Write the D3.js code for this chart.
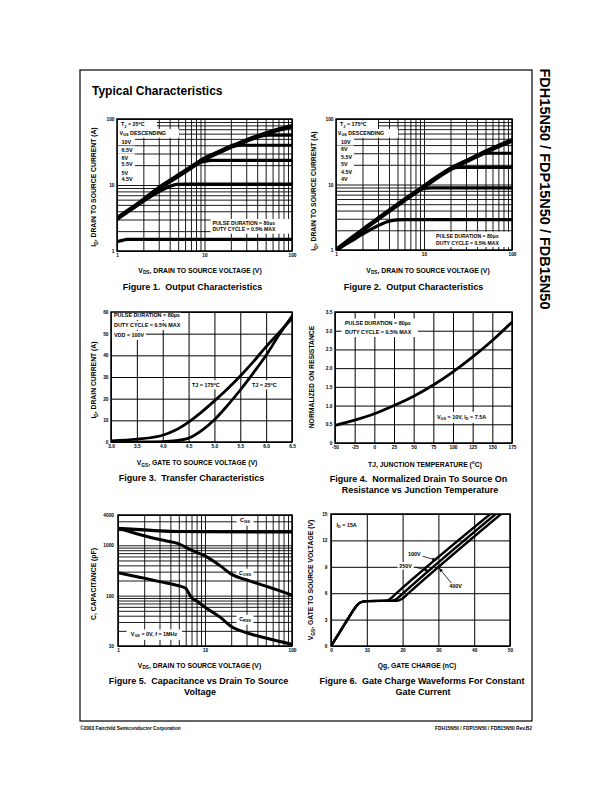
<!DOCTYPE html>
<html><head><meta charset="utf-8">
<script src="https://cdn.jsdelivr.net/npm/d3@7"></script>
<style>
body{margin:0;background:#fff}
svg{display:block}
text{font-family:"Liberation Sans",Arial,Helvetica,sans-serif;font-weight:bold;fill:#000;white-space:pre}
</style>
</head><body>
<svg id="c" width="611" height="792"></svg>
<script>
// ---------------- DATA ----------------
// Figure 1: Output characteristics, TJ = 25C  [VDS (V), ID (A)]
const f1_10V  = [[1,3.1],[1.5,4.5],[2,5.9],[3,8.9],[5,13.8],[7,18.4],[10,25],[15,32],[20,38],[30,47],[50,60],[70,69],[100,78]];
const f1_6p5V = [[1,3.1],[1.5,4.5],[2,5.9],[3,8.9],[5,13.8],[7,18.4],[10,25],[15,32],[20,38],[30,47],[37,51.5],[45,55.5],[55,57],[100,57]];
const f1_6V   = [[1,3.1],[1.5,4.5],[2,5.9],[3,8.9],[5,13.8],[7,18.4],[10,25],[15,32],[18,36],[22,39],[27,40],[100,40]];
const f1_5p5V = [[1,3.1],[1.5,4.5],[2,5.9],[3,8.9],[5,13.8],[7,18.4],[8.5,21.3],[10,22.8],[12,23.6],[100,23.6]];
const f1_5V   = [[1,3.1],[1.5,4.4],[2,5.7],[3,7.9],[4,9.5],[4.8,10.2],[6,10.3],[100,10.3]];
const f1_4p5V = [[1,1.38],[1.15,1.45],[1.3,1.5],[100,1.5]];
const f1Legend = ["10V","6.5V","6V","5.5V","5V","4.5V"];

// Figure 2: Output characteristics, TJ = 175C
const f2_10V  = [[1,1.0],[1.5,1.5],[2,2.0],[3,3.0],[5,4.9],[7,6.7],[10,9.3],[15,13.6],[20,17.3],[30,22.5],[50,31.5],[70,38.5],[100,47]];
const f2_6V   = [[1,1.0],[1.5,1.5],[2,2.0],[3,3.0],[5,4.9],[7,6.7],[10,9.3],[15,13.6],[20,17.3],[30,22.5],[40,27.2],[47,29.5],[55,30],[100,30]];
const f2_5p5V = [[1,1.0],[1.5,1.5],[2,2.0],[3,3.0],[5,4.9],[7,6.7],[10,9.3],[15,13.6],[18,16],[21,17.8],[25,18.3],[100,18.3]];
const f2_5V   = [[1,1.0],[1.5,1.5],[2,2.0],[3,3.0],[5,4.9],[7,6.7],[8.5,8],[10,8.7],[12,8.9],[100,8.9]];
const f2_4p5V = [[1,1.0],[1.5,1.38],[2,1.75],[3,2.35],[4,2.75],[5,2.88],[6,2.9],[100,2.9]];
const f2Legend = ["10V","6V","5.5V","5V","4.5V","4V"];

// Log grid tick values
const decadeGrid = [1,2,3,4,5,6,7,8,9,10,20,30,40,50,60,70,80,90,100];
const decadeLabels = [1,10,100];

// Figure 3: Transfer characteristics [VGS (V), ID (A)]
const f3_175C = [[3.0,0.5],[3.5,1.3],[4.0,3.1],[4.25,5.5],[4.5,9.2],[4.75,13.8],[5.0,19],[5.25,24.5],[5.5,30.5],[5.75,37],[6.0,44],[6.25,50.5],[6.5,57]];
const f3_25C  = [[3.0,0.0],[3.5,0.05],[4.0,0.2],[4.25,0.6],[4.5,1.8],[4.75,5.3],[5.0,10.3],[5.25,16.8],[5.5,24],[5.75,31.8],[6.0,40],[6.25,49.5],[6.5,58]];
const f3XTicks = [3.0,3.5,4.0,4.5,5.0,5.5,6.0,6.5];
const f3YTicks = [0,10,20,30,40,50,60];

// Figure 4: Normalized RDS(on) vs TJ
const f4Temp = [-50,-25,0,25,50,75,100,125,150,175];
const f4Rnorm = [0.47,0.61,0.78,1.0,1.25,1.55,1.9,2.3,2.74,3.23];
const f4XTicks = [-50,-25,0,25,50,75,100,125,150,175];
const f4YTicks = [0,0.5,1.0,1.5,2.0,2.5,3.0,3.5];

// Figure 5: Capacitance vs VDS [VDS (V), C (pF)]
const f5_Ciss = [[1,2180],[2,2020],[3,1940],[5,1880],[10,1860],[100,1850]];
const f5_Coss = [[1,2200],[2,1550],[3,1300],[5,1070],[7,800],[10,615],[15,390],[20,268],[30,205],[50,155],[100,103]];
const f5_Crss = [[1,287],[2,223],[3,190],[5,157],[6,140],[6.5,112],[7,92],[8,78],[10,59],[15,37],[20,24.5],[30,18.3],[50,14.4],[100,10.8]];
const capGrid = [10,20,30,40,50,60,70,80,90,100,200,300,400,500,600,700,800,900,1000,2000,3000,4000];
const capLabels = [10,100,1000,4000];

// Figure 6: Gate charge [Qg (nC), VGS (V)]
const f6_100V = [[0,0],[2,1.3],[4,2.6],[6,3.9],[7,4.5],[8,4.9],[9,5.05],[10,5.1],[15,5.15],[16.5,5.35],[18,5.9],[44.5,15]];
const f6_250V = [[0,0],[2,1.3],[4,2.6],[6,3.9],[7,4.5],[8,4.9],[9,5.05],[10,5.1],[17,5.15],[18.5,5.4],[20,5.95],[46,15]];
const f6_400V = [[0,0],[2,1.3],[4,2.6],[6,3.9],[7,4.5],[8,4.9],[9,5.05],[10,5.1],[18.5,5.15],[20,5.4],[21.5,5.95],[47.5,15]];
const f6XTicks = [0,10,20,30,40,50];
const f6YTicks = [0,3,6,9,12,15];

// ---------------- DRAWING ----------------
const svg = d3.select('#c');
svg.append('rect').attr('width',611).attr('height',792).attr('fill','#fff');
const defs = svg.append('defs');
defs.append('marker').attr('id','arr').attr('viewBox','0 0 10 10').attr('refX',10).attr('refY',5)
  .attr('markerWidth',5).attr('markerHeight',4).attr('markerUnits','userSpaceOnUse').attr('orient','auto')
  .append('path').attr('d','M0,0.5 L10,5 L0,9.5 z').attr('fill','#000');

const TICK = 4.8, AX = 6.8, CAP = 9, LEG = 5.4;

function rich(g, x, y, parts, size, opts={}) {
  const t = g.append('text').attr('x',x).attr('y',y).attr('font-size',size)
    .attr('text-anchor', opts.anchor||'start');
  if (opts.rotate) t.attr('transform',`rotate(${opts.rotate},${x},${y})`);
  if (opts.weight) t.attr('font-weight',opts.weight);
  let shift = 0;
  parts.forEach(p => {
    const s = typeof p === 'string' ? p : p[0];
    const type = typeof p === 'string' ? null : p[1];
    const target = type==='sub' ? size*0.28 : type==='sup' ? -size*0.42 : 0;
    const ts = t.append('tspan').text(s);
    if (target - shift !== 0) ts.attr('dy', target - shift);
    if (type) ts.attr('font-size', size*0.7);
    shift = target;
  });
  return t;
}
function boxed(g, x, cy, parts, size, opts={}) {
  const grp = g.append('g');
  const t = rich(grp, x, cy + size*0.36, parts, size, opts);
  const bb = t.node().getBBox();
  const x0 = opts.x0 != null ? opts.x0 : bb.x - 1.5;
  const x1 = opts.x1 != null ? opts.x1 : bb.x + bb.width + 1.5;
  const pv = opts.pv != null ? opts.pv : 0.6;
  grp.insert('rect','text').attr('x',x0).attr('y',bb.y-pv).attr('width',x1-x0).attr('height',bb.height+2*pv).attr('fill','#fff');
  return grp;
}

let clipN = 0;
function chart(cfg) {
  const L = cfg.L;
  const g = svg.append('g');
  const id = 'clip' + (clipN++);
  defs.append('clipPath').attr('id',id).append('rect')
    .attr('x',L.left).attr('y',L.top).attr('width',L.right-L.left).attr('height',L.bottom-L.top);
  const gx = g.append('g').attr('transform',`translate(0,${L.bottom})`)
    .call(d3.axisBottom(cfg.xs).tickValues(cfg.xGrid).tickSize(-(L.bottom-L.top)).tickFormat(''));
  const gy = g.append('g').attr('transform',`translate(${L.left},0)`)
    .call(d3.axisLeft(cfg.ys).tickValues(cfg.yGrid).tickSize(-(L.right-L.left)).tickFormat(''));
  [gx,gy].forEach(a => { a.select('.domain').remove(); a.selectAll('line').attr('stroke','#000').attr('stroke-width',cfg.gridW||0.9); });
  const lx = g.append('g').attr('transform',`translate(0,${L.bottom})`)
    .call(d3.axisBottom(cfg.xs).tickValues(cfg.xLabels).tickSize(0).tickPadding(cfg.xPad||2.2).tickFormat(cfg.fx));
  const ly = g.append('g').attr('transform',`translate(${L.left},0)`)
    .call(d3.axisLeft(cfg.ys).tickValues(cfg.yLabels).tickSize(0).tickPadding(cfg.yPad||2.5).tickFormat(cfg.fy));
  [lx,ly].forEach(a => { a.select('.domain').remove(); a.attr('font-size',null).attr('font-family',null);
    a.selectAll('text').attr('font-size',TICK).attr('fill','#000'); });
  const ann = g.append('g');
  const curves = g.append('g').attr('clip-path',`url(#${id})`);
  const top = g.append('g');
  const finish = () => top.append('rect').attr('x',L.left).attr('y',L.top).attr('width',L.right-L.left).attr('height',L.bottom-L.top)
      .attr('fill','none').attr('stroke','#000').attr('stroke-width',1.5);
  return {g, ann, curves, top, finish, L};
}
function drawCurve(c, data, xs, ys, w) {
  c.curves.append('path').datum(data)
    .attr('d', d3.line().x(d=>xs(d[0])).y(d=>ys(d[1])).curve(d3.curveMonotoneX))
    .attr('fill','none').attr('stroke','#000').attr('stroke-width',w).attr('stroke-linejoin','round').attr('stroke-linecap','round');
}
const fmtInt = d => String(d);

// Page frame & headers
svg.append('rect').attr('x',80).attr('y',70).attr('width',452).attr('height',651).attr('fill','none').attr('stroke','#000').attr('stroke-width',1.2);
rich(svg, 92, 95.3, ['Typical Characteristics'], 12);
rich(svg, 540, 189, ['FDH15N50 / FDP15N50 / FDB15N50'], 14.5, {anchor:'middle', rotate:90});
rich(svg, 80, 730, ['©2003 Fairchild Semiconductor Corporation'], 4.8, {weight:'normal'});
rich(svg, 532, 730, ['FDH15N50 / FDP15N50 / FDB15N50 Rev.B2'], 4.8, {weight:'normal', anchor:'end'});

// ---------- Figure 1 ----------
{
  const L = {left:117, top:119, right:292, bottom:251};
  const xs = d3.scaleLog().domain([1,100]).range([L.left,L.right]);
  const ys = d3.scaleLog().domain([1,100]).range([L.bottom,L.top]);
  const c = chart({L, xs, ys, xGrid:decadeGrid, yGrid:decadeGrid, xLabels:decadeLabels, yLabels:decadeLabels, fx:fmtInt, fy:fmtInt});
  boxed(c.ann, 121, 124.3, ['T',['J','sub'],' = 25',['o','sup'],'C'], LEG, {x0:L.left+0.7, x1:157});
  boxed(c.ann, 119.5, 132.7, ['V',['GS','sub'],' DESCENDING'], LEG, {x0:L.left+0.7, x1:179});
  const ly = [141.7,150,157.7,164.3,172.7,179.3];
  f1Legend.forEach((t,i) => boxed(c.ann, 121.5, ly[i], [t], LEG, {x0:L.left+0.7, x1:135}));
  boxed(c.ann, 212.5, 223.3, ['PULSE DURATION = 80µs'], LEG*0.95, {x0:210.5, x1:L.right, pv:1.2});
  boxed(c.ann, 212.5, 229.6, ['DUTY CYCLE = 0.5% MAX'], LEG*0.95, {x0:210.5, x1:L.right, pv:1.2});
  [f1_4p5V,f1_5V,f1_5p5V,f1_6V,f1_6p5V].forEach(d => drawCurve(c, d, xs, ys, 3.2));
  drawCurve(c, f1_10V, xs, ys, 4.6);
  c.finish();
  rich(svg, 95.8, 187, ['I',['D','sub'],', DRAIN TO SOURCE CURRENT (A)'], AX, {anchor:'middle', rotate:-90});
  rich(svg, 200, 272.5, ['V',['DS','sub'],', DRAIN TO SOURCE VOLTAGE (V)'], AX, {anchor:'middle'});
  rich(svg, 192.5, 289.7, ['Figure 1.  Output Characteristics'], CAP, {anchor:'middle'});
}

// ---------- Figure 2 ----------
{
  const L = {left:336, top:119, right:512, bottom:250};
  const xs = d3.scaleLog().domain([1,100]).range([L.left,L.right]);
  const ys = d3.scaleLog().domain([1,100]).range([L.bottom,L.top]);
  const c = chart({L, xs, ys, xGrid:decadeGrid, yGrid:decadeGrid, xLabels:decadeLabels, yLabels:decadeLabels, fx:fmtInt, fy:fmtInt});
  boxed(c.ann, 340, 124.3, ['T',['J','sub'],' = 175',['o','sup'],'C'], LEG, {x0:L.left+0.7, x1:378});
  boxed(c.ann, 337.8, 132.7, ['V',['GS','sub'],' DESCENDING'], LEG, {x0:L.left+0.7, x1:398});
  const ly = [141.7,149.3,156.7,164.3,171.7,179.3];
  f2Legend.forEach((t,i) => boxed(c.ann, 341, ly[i], [t], LEG, {x0:L.left+0.7, x1:354}));
  boxed(c.ann, 436, 236, ['PULSE DURATION = 80µs'], LEG*0.95, {x0:434, x1:L.right, pv:1.2});
  boxed(c.ann, 436, 243, ['DUTY CYCLE = 0.5% MAX'], LEG*0.95, {x0:434, x1:L.right, pv:1.2});
  [f2_4p5V,f2_5V,f2_5p5V,f2_6V].forEach(d => drawCurve(c, d, xs, ys, 3.2));
  drawCurve(c, f2_10V, xs, ys, 4.6);
  c.finish();
  rich(svg, 316, 191, ['I',['D','sub'],', DRAIN TO SOURCE CURRENT (A)'], AX, {anchor:'middle', rotate:-90});
  rich(svg, 428, 272.5, ['V',['DS','sub'],', DRAIN TO SOURCE VOLTAGE (V)'], AX, {anchor:'middle'});
  rich(svg, 413.5, 289.7, ['Figure 2.  Output Characteristics'], CAP, {anchor:'middle'});
}

// ---------- Figure 3 ----------
{
  const L = {left:111, top:312, right:292, bottom:442};
  const xs = d3.scaleLinear().domain([3.0,6.5]).range([L.left,L.right]);
  const ys = d3.scaleLinear().domain([0,60]).range([L.bottom,L.top]);
  const c = chart({L, xs, ys, xGrid:f3XTicks, yGrid:f3YTicks, xLabels:f3XTicks, yLabels:f3YTicks, fx:d3.format('.1f'), fy:fmtInt, gridW:1});
  boxed(c.ann, 114, 315.5, ['PULSE DURATION = 80µs'], LEG, {x0:L.left+0.7, pv:1.5});
  boxed(c.ann, 114, 325.5, ['DUTY CYCLE = 0.5% MAX'], LEG, {x0:L.left+0.7, pv:1.5});
  boxed(c.ann, 114, 335.5, ['VDD = 100V'], LEG, {x0:L.left+0.7, pv:1.5});
  boxed(c.ann, 192, 385, ['TJ = 175',['o','sup'],'C'], LEG, {pv:1.5});
  boxed(c.ann, 252, 385, ['TJ = 25',['o','sup'],'C'], LEG, {pv:1.5});
  drawCurve(c, f3_175C, xs, ys, 2.8);
  drawCurve(c, f3_25C, xs, ys, 2.8);
  c.finish();
  rich(svg, 95.8, 380, ['I',['D','sub'],', DRAIN CURRENT (A)'], AX, {anchor:'middle', rotate:-90});
  rich(svg, 197, 465, ['V',['GS','sub'],', GATE TO SOURCE VOLTAGE (V)'], AX, {anchor:'middle'});
  rich(svg, 191.5, 481.2, ['Figure 3.  Transfer Characteristics'], CAP, {anchor:'middle'});
}

// ---------- Figure 4 ----------
{
  const L = {left:335, top:312, right:512, bottom:443};
  const xs = d3.scaleLinear().domain([-50,175]).range([L.left,L.right]);
  const ys = d3.scaleLinear().domain([0,3.5]).range([L.bottom,L.top]);
  const c = chart({L, xs, ys, xGrid:f4XTicks, yGrid:f4YTicks, xLabels:f4XTicks, yLabels:f4YTicks, fx:fmtInt, fy:d=>d===0?'0':d.toFixed(1), gridW:1});
  boxed(c.ann, 345, 323.3, ['PULSE DURATION = 80µs'], LEG, {x0:341.5, x1:418, pv:1.8});
  boxed(c.ann, 345, 332.3, ['DUTY CYCLE = 0.5% MAX'], LEG, {x0:341.5, x1:418, pv:1.8});
  boxed(c.ann, 461.5, 416.7, ['V',['GS','sub'],' = 10V, I',['D','sub'],' = 7.5A'], LEG, {anchor:'middle', pv:1.8});
  drawCurve(c, f4Temp.map((t,i)=>[t,f4Rnorm[i]]), xs, ys, 2.8);
  c.finish();
  rich(svg, 314, 377, ['NORMALIZED ON RESISTANCE'], AX, {anchor:'middle', rotate:-90});
  rich(svg, 425, 466.5, ['TJ, JUNCTION TEMPERATURE (',['o','sup'],'C)'], AX, {anchor:'middle'});
  rich(svg, 418.5, 482.2, ['Figure 4.  Normalized Drain To Source On'], CAP, {anchor:'middle'});
  rich(svg, 420, 493.2, ['Resistance vs Junction Temperature'], CAP, {anchor:'middle'});
}

// ---------- Figure 5 ----------
{
  const L = {left:118, top:515, right:292, bottom:646};
  const xs = d3.scaleLog().domain([1,100]).range([L.left,L.right]);
  const ys = d3.scaleLog().domain([10,4000]).range([L.bottom,L.top]);
  const c = chart({L, xs, ys, xGrid:decadeGrid, yGrid:capGrid, xLabels:decadeLabels, yLabels:capLabels, fx:fmtInt, fy:fmtInt, yPad:4});
  boxed(c.ann, 245, 520, ['C',['ISS','sub']], LEG, {anchor:'middle', x0:236.5, x1:253.5, pv:1.2});
  boxed(c.ann, 245, 573, ['C',['OSS','sub']], LEG, {anchor:'middle', x0:236.5, x1:253.5, pv:1.2});
  boxed(c.ann, 245, 619, ['C',['RSS','sub']], LEG, {anchor:'middle', x0:236.5, x1:253.5, pv:1.2});
  boxed(c.ann, 154, 634, ['V',['GS','sub'],' = 0V, f = 1MHz'], LEG, {anchor:'middle', x0:126.5, x1:182, pv:1.5});
  drawCurve(c, f5_Ciss, xs, ys, 3.2);
  drawCurve(c, f5_Coss, xs, ys, 3);
  drawCurve(c, f5_Crss, xs, ys, 3);
  c.finish();
  rich(svg, 95.8, 584, ['C, CAPACITANCE (pF)'], AX, {anchor:'middle', rotate:-90});
  rich(svg, 199.5, 667.5, ['V',['DS','sub'],', DRAIN TO SOURCE VOLTAGE (V)'], AX, {anchor:'middle'});
  rich(svg, 198.5, 684.2, ['Figure 5.  Capacitance vs Drain To Source'], CAP, {anchor:'middle'});
  rich(svg, 200, 695.2, ['Voltage'], CAP, {anchor:'middle'});
}

// ---------- Figure 6 ----------
{
  const L = {left:331, top:514, right:510, bottom:646};
  const xs = d3.scaleLinear().domain([0,50]).range([L.left,L.right]);
  const ys = d3.scaleLinear().domain([0,15]).range([L.bottom,L.top]);
  const c = chart({L, xs, ys, xGrid:f6XTicks, yGrid:f6YTicks, xLabels:f6XTicks, yLabels:f6YTicks, fx:fmtInt, fy:fmtInt, yPad:3.5, gridW:1});
  boxed(c.ann, 336.5, 525, ['I',['D','sub'],' = 15A'], LEG, {pv:1.2});
  drawCurve(c, f6_100V, xs, ys, 2.4);
  drawCurve(c, f6_250V, xs, ys, 2.4);
  drawCurve(c, f6_400V, xs, ys, 2.4);
  c.finish();
  const a = c.top;
  boxed(a, xs(23.3), ys(10.45), ['100V'], LEG, {anchor:'middle', pv:0.8});
  boxed(a, xs(20.8), ys(9.1), ['250V'], LEG, {anchor:'middle', pv:0.8});
  boxed(a, xs(34.8), ys(6.8), ['400V'], LEG, {anchor:'middle', pv:0.8});
  const arrows = [[25.6,10.2,29.4,9.75],[23.6,8.95,27.3,8.55],[33.6,7.15,30.2,8.85]];
  arrows.forEach(([x0,y0,x1,y1]) => a.append('line').attr('x1',xs(x0)).attr('y1',ys(y0)).attr('x2',xs(x1)).attr('y2',ys(y1))
    .attr('stroke','#000').attr('stroke-width',0.8).attr('marker-end','url(#arr)'));
  rich(svg, 313.2, 580, ['V',['GS','sub'],', GATE TO SOURCE VOLTAGE (V)'], AX, {anchor:'middle', rotate:-90});
  rich(svg, 417, 667.5, ['Qg, GATE CHARGE (nC)'], AX, {anchor:'middle'});
  rich(svg, 422, 684.2, ['Figure 6.  Gate Charge Waveforms For Constant'], CAP, {anchor:'middle'});
  rich(svg, 423, 695.2, ['Gate Current'], CAP, {anchor:'middle'});
}
</script>
</body></html>
